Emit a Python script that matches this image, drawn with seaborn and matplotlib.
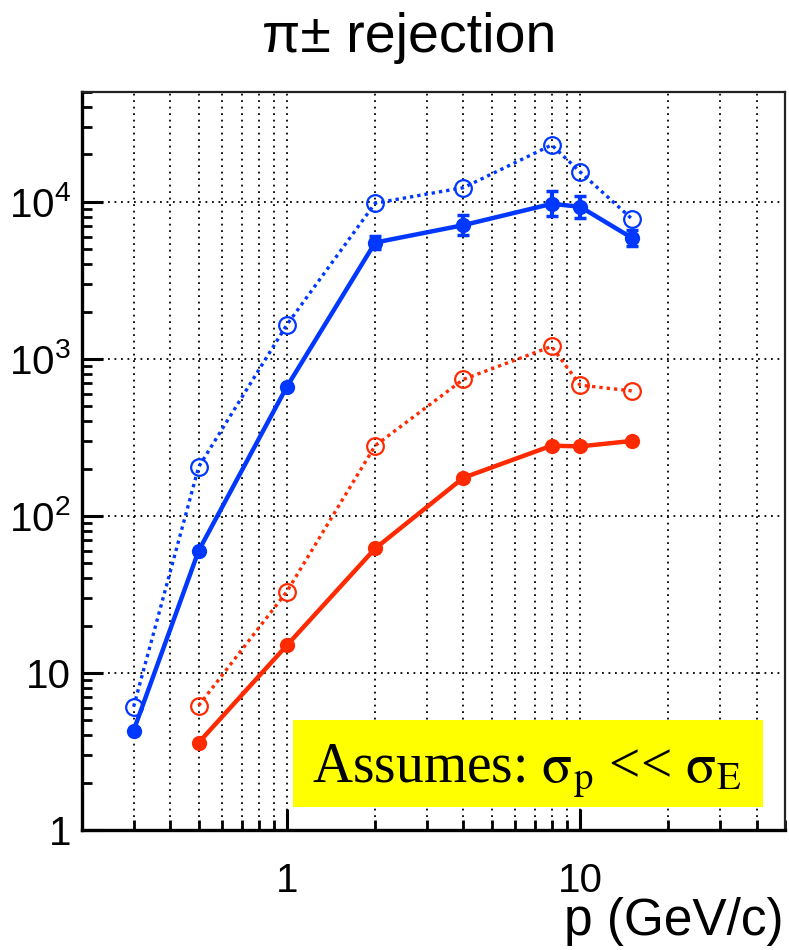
import numpy as np
import pandas as pd
import matplotlib
matplotlib.use("Agg")
import matplotlib.pyplot as plt
import matplotlib.ticker as mticker
from matplotlib.patches import Rectangle
import seaborn as sns

# ---- data ----
p_blue = [0.3, 0.5, 1, 2, 4, 8, 10, 15]
blue_filled = [4.3, 60, 665, 5500, 7100, 9700, 9300, 5900]
blue_err_lo = [0, 0, 0, 484, 987, 1630, 1385, 643]
blue_err_hi = [0, 0, 0, 530, 1146, 1960, 1630, 720]
blue_open = [6.1, 205, 1650, 9800, 12300, 23000, 15500, 7800]

p_red = [0.5, 1, 2, 4, 8, 10, 15]
red_filled = [3.6, 15, 62, 175, 280, 277, 300]
red_open = [6.2, 33, 280, 740, 1200, 680, 625]

title = "π± rejection"
xlabel = "p (GeV/c)"
box_text = r"Assumes: $\mathrm{\sigma}_{\mathrm{p}}$ << $\mathrm{\sigma}_{\mathrm{E}}$"

BLUE = "#0038ff"
RED = "#ff2a00"

sns.set_theme(style="white")
plt.rcParams["font.family"] = ["Liberation Sans", "DejaVu Sans"]
plt.rcParams["mathtext.fontset"] = "custom"
plt.rcParams["mathtext.rm"] = "Liberation Sans"
plt.rcParams["mathtext.it"] = "Liberation Sans:italic"
plt.rcParams["mathtext.bf"] = "Liberation Sans:bold"

fig = plt.figure(figsize=(7.89, 9.5), dpi=100)
W, H = 789, 950
L, R, T, B = 82, 785, 92, 830
ax = fig.add_axes([L / W, 1 - B / H, (R - L) / W, (B - T) / H])

ax.set_xscale("log")
ax.set_yscale("log")
ax.set_xlim(0.2, 50)
ax.set_ylim(1, 5e4)

# grid
ax.xaxis.set_major_locator(mticker.LogLocator(base=10, numticks=10))
ax.xaxis.set_minor_locator(mticker.LogLocator(base=10, subs=np.arange(2, 10), numticks=20))
ax.yaxis.set_major_locator(mticker.LogLocator(base=10, numticks=10))
ax.yaxis.set_minor_locator(mticker.LogLocator(base=10, subs=np.arange(2, 10), numticks=20))
gstyle = dict(color="black", linestyle=(0, (1, 2.6)), linewidth=1.3)
ax.grid(True, which="major", axis="both", **gstyle)
ax.grid(True, which="minor", axis="x", **gstyle)

df_bf = pd.DataFrame({"p": p_blue, "y": blue_filled})
df_bo = pd.DataFrame({"p": p_blue, "y": blue_open})
df_rf = pd.DataFrame({"p": p_red, "y": red_filled})
df_ro = pd.DataFrame({"p": p_red, "y": red_open})

sns.lineplot(data=df_bo, x="p", y="y", ax=ax, color=BLUE, linestyle=(0, (1, 1.2)),
             linewidth=2.4, marker="o", markersize=12, markerfacecolor="none",
             markeredgecolor=BLUE, markeredgewidth=1.6, zorder=4)
sns.lineplot(data=df_ro, x="p", y="y", ax=ax, color=RED, linestyle=(0, (1, 1.2)),
             linewidth=2.4, marker="o", markersize=12, markerfacecolor="none",
             markeredgecolor=RED, markeredgewidth=1.6, zorder=4)
sns.lineplot(data=df_bf, x="p", y="y", ax=ax, color=BLUE, linestyle="-",
             linewidth=3.2, marker="o", markersize=11, markeredgewidth=0, zorder=5)
sns.lineplot(data=df_rf, x="p", y="y", ax=ax, color=RED, linestyle="-",
             linewidth=3.2, marker="o", markersize=11, markeredgewidth=0, zorder=5)
ax.errorbar(p_blue, blue_filled, yerr=[blue_err_lo, blue_err_hi], fmt="none",
            ecolor=BLUE, elinewidth=3, capsize=4, capthick=2.5, zorder=5)

# ticks
def yfmt(v, pos):
    n = int(round(np.log10(v)))
    if n == 0:
        return "1"
    if n == 1:
        return "10"
    return r"$10^{%d}$" % n

def xfmt(v, pos):
    n = int(round(np.log10(v)))
    if n == 0:
        return "1"
    if n == 1:
        return "10"
    return ""

ax.yaxis.set_major_formatter(mticker.FuncFormatter(yfmt))
ax.xaxis.set_major_formatter(mticker.FuncFormatter(xfmt))
ax.yaxis.set_minor_formatter(mticker.NullFormatter())
ax.xaxis.set_minor_formatter(mticker.NullFormatter())

ax.tick_params(axis="both", which="major", direction="in", length=15, width=2.2,
               labelsize=29, colors="black")
ax.tick_params(axis="both", which="minor", direction="in", length=7.5, width=2.0,
               colors="black")
ax.tick_params(axis="y", which="both", left=True, right=False, pad=8)
ax.tick_params(axis="x", which="both", bottom=True, top=False, pad=23)

for s in ["left", "bottom"]:
    ax.spines[s].set_linewidth(2.4)
    ax.spines[s].set_color("black")
for s in ["top", "right"]:
    ax.spines[s].set_linewidth(1.6)
    ax.spines[s].set_color("#222222")

ax.set_xlabel("")
ax.set_ylabel("")

fig.text(409 / W, 1 - 38 / H, title, ha="center", va="center", fontsize=40,
         color="black")
fig.text(783 / W, 1 - 935 / H, xlabel, ha="right", va="baseline", fontsize=37,
         color="black")

# yellow annotation box
fig.patches.append(Rectangle((293 / W, 1 - 807 / H), (763 - 293) / W, (807 - 720) / H,
                             transform=fig.transFigure, facecolor="#ffff00",
                             edgecolor="none", zorder=10))
fig.text(527 / W, 1 - 782 / H, box_text, ha="center", va="baseline", fontsize=40,
         family=["Liberation Serif", "DejaVu Serif"], math_fontfamily="stix",
         color="black", zorder=11)

fig.savefig("out.png", dpi=100)
